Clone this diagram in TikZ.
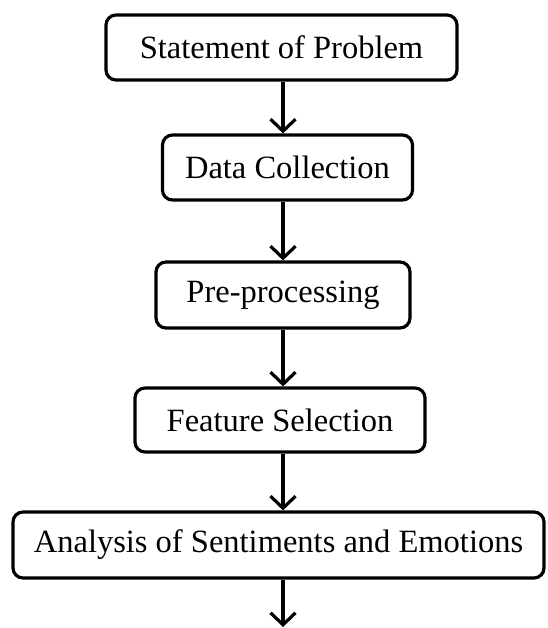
\documentclass[tikz,border=0pt]{standalone}
\usepackage{fontspec}
\setmainfont{Liberation Serif}
\usepackage{tikz}
\usetikzlibrary{positioning,arrows.meta}

\begin{document}
\begin{tikzpicture}[
  x=1pt, y=1pt,
  box/.style={draw, rectangle, line width=3.2pt, rounded corners=10pt, align=center, inner sep=0pt,
    font=\fontsize{32.5}{39}\selectfont},
  flow/.style={-{Straight Barb[length=12pt,width=25pt,line width=3.2pt]}, line width=3.2pt}
]
  \useasboundingbox (0,0) rectangle (547,-628);
  \coordinate (spine) at (283,0);

  % Nodes
  \node[box, minimum width=351pt, minimum height=65pt] (problem) at (281.5,-47.5) {Statement of Problem};
  \node[box, minimum width=250pt, minimum height=65pt] (collect) at (287.5,-167.5) {Data Collection};
  \node[box, minimum width=254pt, minimum height=66pt] (prep) at (283,-295) {Pre-processing};
  \node[box, minimum width=290pt, minimum height=64pt] (feat) at (280,-420) {Feature Selection};
  \node[box, minimum width=531pt, minimum height=66pt] (analysis) at (278.5,-545) {Analysis of Sentiments and Emotions};
  \coordinate (out) at (283,-627);

  % Arrows
  \draw[flow] (problem.south -| spine) -- (collect.north -| spine);
  \draw[flow] (collect.south -| spine) -- (prep.north -| spine);
  \draw[flow] (prep.south -| spine) -- (feat.north -| spine);
  \draw[flow] (feat.south -| spine) -- (analysis.north -| spine);
  \draw[flow] (analysis.south -| spine) -- (out);
\end{tikzpicture}
\end{document}
